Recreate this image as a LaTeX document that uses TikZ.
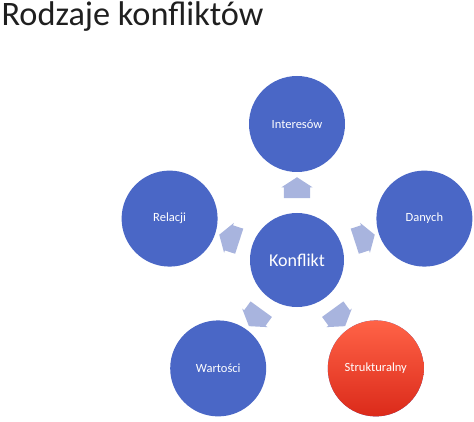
\documentclass[tikz,border=0pt]{standalone}
\usepackage{fontspec}
\setmainfont{Carlito}
\usetikzlibrary{calc,shapes.arrows}
\definecolor{Circ}{HTML}{4A67C6}
\definecolor{Arr}{HTML}{A8B4DE}
\definecolor{StrTop}{HTML}{FF6347}
\definecolor{StrBot}{HTML}{DB2A1A}

\tikzset{
  circ/.style={shape=circle, fill=Circ, minimum size=96pt, inner sep=0pt, text=white, font=\fontsize{12.5}{14}\selectfont},
  push/.style={shape=single arrow, fill=Arr, inner xsep=0pt, inner ysep=13pt, minimum height=21pt, single arrow head extend=2.5pt, single arrow tip angle=114},
}

\begin{document}
\begin{tikzpicture}[x=1pt, y=-1pt]
    \useasboundingbox (0, 0) rectangle (474, 422);
    \node at (-2, 26) (title) [anchor=base west, font=\fontsize{34.3}{40}\selectfont, text=black!88] {Rodzaje konfliktów};

    \node at (297, 260) (K) [circ, minimum size=94pt, font=\fontsize{18}{21}\selectfont] {Konflikt};
    \node at (297, 124) (I) [circ] {Interesów};
    \node at (424.4, 218.6) (D) [circ] {Danych};
    \node at (169.6, 218.6) (R) [circ] {Relacji};
    \node at (218.2, 368.4) (W) [circ] {Wartości};
    \node at (375.8, 368.4) (S) [circ, top color=StrTop, bottom color=StrBot] {Strukturalny};

    \node at ($(K)!0.5!(I)$) (KI) [push, rotate=90] {};
    \node at ($(K)!0.5!(D)$) (KD) [push, rotate=18] {};
    \node at ($(K)!0.5!(R)$) (KR) [push, rotate=162] {};
    \node at ($(K)!0.5!(W)$) (KW) [push, rotate=-126] {};
    \node at ($(K)!0.5!(S)$) (KS) [push, rotate=-54] {};
\end{tikzpicture}
\end{document}
